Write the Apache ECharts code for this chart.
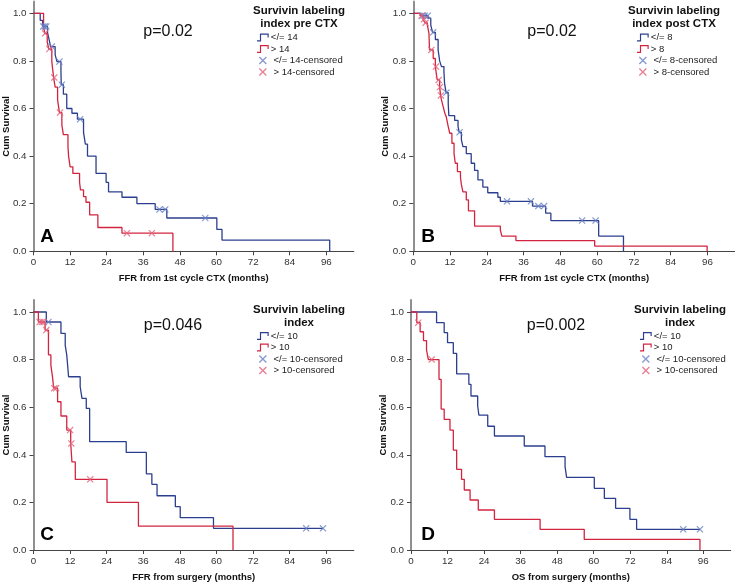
<html>
<head>
<meta charset="utf-8">
<title>Survivin labeling index - Kaplan-Meier</title>
<style>
  * { margin: 0; padding: 0; }
  #chart-container { width: 735px; height: 583px; background: #fff; }
</style>
</head>
<body>
<div id="chart-container"></div>
<script src="https://cdn.jsdelivr.net/npm/echarts@6.0.0/dist/echarts.min.js"></script>
<script>
// [months, cumulative survival] at each event step
const aLowSteps = [[0,1],[2.2,0.97],[3,0.945],[4.6,0.92],[5.1,0.89],[5.6,0.86],[7.1,0.825],[7.7,0.797],[9,0.755],[9.1,0.70],[9.8,0.66],[10.9,0.60],[12.6,0.58],[14.4,0.555],[16.4,0.50],[17,0.45],[17.7,0.40],[20.5,0.327],[23.8,0.29],[24.6,0.25],[29,0.227],[33.9,0.20],[39.9,0.176],[43.7,0.14],[60.1,0.092],[61.8,0.047],[97.1,0]];
const aHighSteps = [[0,1],[3.3,0.944],[3.7,0.916],[4.5,0.88],[5,0.85],[6,0.797],[6.6,0.73],[7.1,0.69],[7.9,0.636],[8.5,0.583],[9.3,0.53],[9.8,0.49],[11.3,0.44],[11.5,0.40],[12,0.355],[12.9,0.327],[15.1,0.29],[15.4,0.258],[16.4,0.23],[17.2,0.206],[18.4,0.153],[21.1,0.10],[29,0.076],[45.7,0]];
const aLowCens = [3.2, 3.7, 4.2, 6, 8.5, 9.3, 15.3, 41.3, 43.2, 56.3];
const aHighCens = [3.8, 5.2, 6.8, 8.7, 30.6, 38.8];

const bLowSteps = [[0,1],[2.5,0.99],[4.8,0.98],[5.7,0.95],[6.3,0.92],[7.2,0.89],[8.1,0.846],[8.6,0.80],[9.2,0.776],[10,0.755],[10.2,0.706],[10.7,0.667],[11.4,0.62],[11.6,0.57],[13.5,0.55],[14.6,0.524],[15,0.50],[15.7,0.468],[16.2,0.44],[17.3,0.41],[18.9,0.37],[20,0.34],[21.1,0.30],[22.7,0.27],[24.3,0.246],[27.6,0.227],[28.4,0.21],[38.9,0.19],[43.2,0.16],[44.9,0.129],[60.5,0.064],[68.6,0]];
const bHighSteps = [[0,1],[2.2,0.99],[3.2,0.975],[3.8,0.96],[4.6,0.95],[5.1,0.917],[5.3,0.846],[6.5,0.81],[7.2,0.776],[7.8,0.72],[8.6,0.69],[8.9,0.655],[9.2,0.636],[9.7,0.61],[10.3,0.58],[10.8,0.563],[11.4,0.524],[11.9,0.496],[12.6,0.454],[13.3,0.41],[13.7,0.37],[14.4,0.335],[15.4,0.31],[15.7,0.28],[16.2,0.25],[17.3,0.216],[18,0.17],[20,0.106],[28.4,0.09],[28.9,0.064],[33.5,0.045],[59.2,0.022],[95.9,0]];
const bLowCens = [3, 3.7, 4.7, 6.5, 10.8, 15.1, 30.6, 38.4, 40.8, 42.7, 55.1, 59.5];
const bHighCens = [2.7, 3.5, 4, 5.9, 7.4, 8.3, 8.7, 9.0];

const cLowSteps = [[0,1],[4.2,0.958],[9,0.91],[10.4,0.86],[10.9,0.82],[11.5,0.728],[15.3,0.686],[15.9,0.637],[17.3,0.595],[18.4,0.455],[30.4,0.41],[37,0.32],[38.8,0.276],[40.5,0.228],[46.5,0.182],[48.1,0.136],[59,0.091],[94.9,0.091]];
const cHighSteps = [[0,1],[1.6,0.958],[3.8,0.924],[4.9,0.82],[5.7,0.777],[6.3,0.72],[6.6,0.68],[7.9,0.623],[9,0.563],[10.9,0.504],[12.2,0.448],[12.6,0.37],[13.7,0.297],[24.1,0.2],[34.4,0.10],[65.4,0]];
const cLowCens = [4.9, 89.4, 94.9];
const cHighCens = [2, 2.7, 3.3, 4.2, 6.8, 7.4, 12, 12.4, 18.6];

const dLowSteps = [[0,1],[8.4,0.955],[10.9,0.913],[12,0.871],[13.9,0.826],[15,0.74],[19,0.696],[19.7,0.647],[21.9,0.605],[22.3,0.567],[25.2,0.52],[27.4,0.479],[37.2,0.437],[44,0.392],[50.6,0.35],[51.1,0.305],[60.2,0.259],[63.5,0.217],[67.2,0.175],[71.9,0.129],[74.1,0.087],[94.9,0.087]];
const dHighSteps = [[0,1],[1.9,0.955],[3,0.917],[4.1,0.88],[5.1,0.84],[5.7,0.80],[9.2,0.717],[9.9,0.592],[10.9,0.549],[12.8,0.504],[13.9,0.42],[15,0.339],[16.6,0.297],[17.5,0.252],[19.4,0.21],[22.1,0.168],[27.4,0.129],[42.4,0.087],[56.9,0.045],[94.9,0]];
const dLowCens = [89.4, 94.9];
const dHighCens = [2.4, 6.8];

const groupNames = [['</= 14', '> 14'], ['</= 8', '> 8'], ['</= 10', '> 10'], ['</= 10', '> 10']];
const legendTitles = ['Survivin labeling\nindex pre CTX', 'Survivin labeling\nindex post CTX', 'Survivin labeling\nindex', 'Survivin labeling\nindex'];
const xNames = ['FFR from 1st cycle CTX (months)', 'FFR from 1st cycle CTX (months)', 'FFR from surgery (months)', 'OS from surgery (months)'];
const pValues = ['p=0.02', 'p=0.02', 'p=0.046', 'p=0.002'];
const letters = ['A', 'B', 'C', 'D'];
const xTicks = [0, 12, 24, 36, 48, 60, 72, 84, 96];
const yTicks = [0, 0.2, 0.4, 0.6, 0.8, 1.0];

const FONT = 'Liberation Sans, Arial, sans-serif';
const BLUE = '#2c3f8e', RED = '#d3243f';
const BLUE_X = '#6a82c4', RED_X = '#e2627a';
const X_PATH = 'path://M0,1.2L1.2,0L5,3.8L8.8,0L10,1.2L6.2,5L10,8.8L8.8,10L5,6.2L1.2,10L0,8.8L3.8,5Z';
const STEP_PATH = 'path://M0,7L3,7L3,0L12,0L12,4L10.8,4L10.8,1.2L4.2,1.2L4.2,8.2L0,8.2Z';

const panels = [
  { low: aLowSteps, high: aHighSteps, lowCens: aLowCens, highCens: aHighCens,
    grid: { left: 33.3, top: 1.4, width: 320.5, height: 249.9 },
    titleX: 299, titleY: 5, legendX: 257, legendY: 32, pX: 168, pY: 32, letterX: 47, letterY: 237 },
  { low: bLowSteps, high: bHighSteps, lowCens: bLowCens, highCens: bHighCens,
    grid: { left: 413.3, top: 1.4, width: 321.7, height: 249.9 },
    titleX: 674, titleY: 5, legendX: 637, legendY: 32, pX: 552, pY: 32, letterX: 428, letterY: 237 },
  { low: cLowSteps, high: cHighSteps, lowCens: cLowCens, highCens: cHighCens,
    grid: { left: 33.3, top: 300.1, width: 320.5, height: 249.9 },
    titleX: 299, titleY: 304, legendX: 257, legendY: 330.5, pX: 173, pY: 326, letterX: 47, letterY: 535 },
  { low: dLowSteps, high: dHighSteps, lowCens: dLowCens, highCens: dHighCens,
    grid: { left: 411, top: 300.1, width: 319.7, height: 249.9 },
    titleX: 680, titleY: 304, legendX: 640, legendY: 330.5, pX: 556, pY: 326, letterX: 428, letterY: 535 }
];

// survival value of a step curve at time t (used to put censor marks on the line)
function survAt(steps, t) {
  let s = steps[0][1];
  for (const p of steps) { if (p[0] <= t) s = p[1]; }
  return s;
}

const grids = [], xAxes = [], yAxes = [], series = [], legends = [], graphics = [];

panels.forEach(function (p, i) {
  const names = groupNames[i];
  const cNames = [names[0] + '-censored', names[1] + '-censored'];
  grids.push(p.grid);
  xAxes.push({
    gridIndex: i, type: 'value', min: 0, max: 105,
    name: xNames[i], nameLocation: 'middle', nameGap: 22, nameMoveOverlap: false,
    nameTextStyle: { fontFamily: FONT, fontWeight: 'bold', fontSize: 9.5, color: '#111' },
    axisLine: { lineStyle: { color: '#444', width: 1 } },
    axisTick: { customValues: xTicks, length: 4, lineStyle: { color: '#444' } },
    axisLabel: { customValues: xTicks, fontFamily: FONT, fontSize: 9.8, color: '#333', margin: 6 },
    splitLine: { show: false }
  });
  yAxes.push({
    gridIndex: i, type: 'value', min: 0, max: 1.05,
    name: 'Cum Survival', nameLocation: 'middle', nameGap: 22.5, nameMoveOverlap: false,
    nameTextStyle: { fontFamily: FONT, fontWeight: 'bold', fontSize: 9.5, color: '#111' },
    axisLine: { show: true, lineStyle: { color: '#8f8f8f', width: 2 } },
    axisTick: { show: true, customValues: yTicks, length: 4, lineStyle: { color: '#444' } },
    axisLabel: { customValues: yTicks, fontFamily: FONT, fontSize: 9.8, color: '#333', margin: 7,
      formatter: function (v) { return v.toFixed(1); } },
    splitLine: { show: false }
  });
  series.push(
    { type: 'line', name: names[0], xAxisIndex: i, yAxisIndex: i, data: p.low, step: 'end',
      symbol: 'none', lineStyle: { color: BLUE, width: 1.3 }, itemStyle: { color: BLUE }, z: 2 },
    { type: 'line', name: names[1], xAxisIndex: i, yAxisIndex: i, data: p.high, step: 'end',
      symbol: 'none', lineStyle: { color: RED, width: 1.3 }, itemStyle: { color: RED }, z: 2 },
    { type: 'scatter', name: cNames[0], xAxisIndex: i, yAxisIndex: i, symbol: X_PATH, symbolSize: 7,
      data: p.lowCens.map(function (t) { return [t, survAt(p.low, t)]; }),
      itemStyle: { color: BLUE_X }, z: 3 },
    { type: 'scatter', name: cNames[1], xAxisIndex: i, yAxisIndex: i, symbol: X_PATH, symbolSize: 7,
      data: p.highCens.map(function (t) { return [t, survAt(p.high, t)]; }),
      itemStyle: { color: RED_X }, z: 3 }
  );
  legends.push({
    orient: 'vertical', left: p.legendX, top: p.legendY, padding: 0,
    itemWidth: 12, itemHeight: 8, itemGap: 0.5, selectedMode: false,
    itemStyle: { borderWidth: 0 },
    textStyle: { fontFamily: FONT, fontSize: 9.5, color: '#222', lineHeight: 11, padding: [0, 0, 0, -3] },
    formatter: function (n) { return n.indexOf('censored') > 0 ? ' ' + n : n; },
    data: [
      { name: names[0], icon: STEP_PATH }, { name: names[1], icon: STEP_PATH },
      { name: cNames[0], icon: X_PATH }, { name: cNames[1], icon: X_PATH }
    ]
  });
  graphics.push(
    { type: 'text', x: p.titleX, y: p.titleY,
      style: { text: legendTitles[i], fontFamily: FONT, fontWeight: 'bold', fontSize: 11.5,
        lineHeight: 12.3, align: 'center', verticalAlign: 'top', fill: '#111' } },
    { type: 'text', x: p.pX, y: p.pY,
      style: { text: pValues[i], fontFamily: FONT, fontSize: 16, align: 'center',
        verticalAlign: 'middle', fill: '#111' } },
    { type: 'text', x: p.letterX, y: p.letterY,
      style: { text: letters[i], fontFamily: FONT, fontWeight: 'bold', fontSize: 19,
        align: 'center', verticalAlign: 'middle', fill: '#000' } }
  );
});

var dom = document.getElementById('chart-container');
var myChart = echarts.init(dom, null, { renderer: 'canvas' });

var option = {
  backgroundColor: '#fff',
  animation: false,
  grid: grids,
  xAxis: xAxes,
  yAxis: yAxes,
  legend: legends,
  series: series,
  graphic: graphics
};

myChart.setOption(option);
window.addEventListener('resize', myChart.resize);
</script>
</body>
</html>
